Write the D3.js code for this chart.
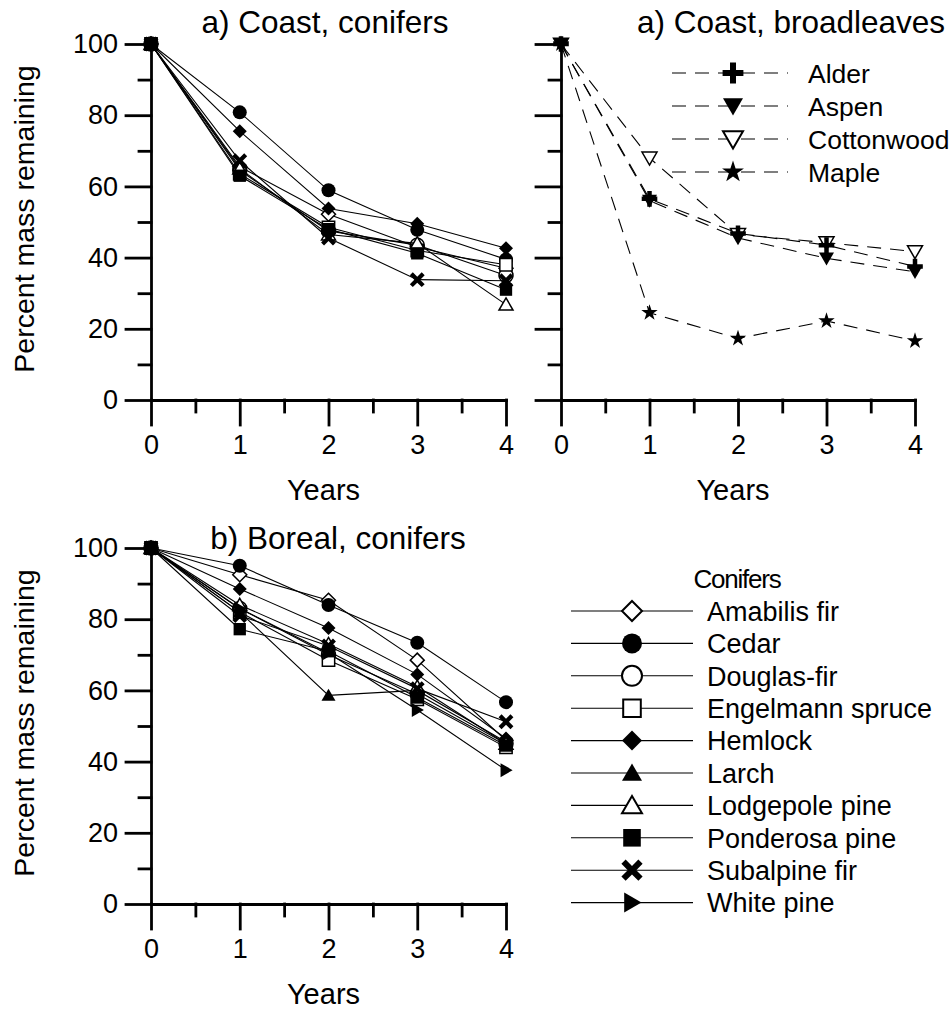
<!DOCTYPE html>
<html lang="en">
<head>
<meta charset="UTF-8">
<script src="https://d3js.org/d3.v7.min.js"></script>
<style>
  body { margin: 0; background: #fff; }
  svg text { font-family: "Liberation Sans", Arial, sans-serif; fill: #000; }
</style>
</head>
<body>
<div id="here"></div>
<script>
const years = [0, 1, 2, 3, 4];
const yTicks = [0, 20, 40, 60, 80, 100];
const yMinor = [10, 30, 50, 70, 90];
const xMinor = [0.5, 1.5, 2.5, 3.5];

// a) coast, conifers
const coastAmabilis  = [100, 65.5, 52.2, 43.0, 37.0];
const coastCedar     = [100, 80.8, 58.9, 47.8, 39.5];
const coastDouglas   = [100, 64.5, 47.5, 43.5, 35.0];
const coastEngelmann = [100, 63.5, 48.5, 42.0, 38.0];
const coastHemlock   = [100, 75.5, 53.8, 49.5, 42.6];
const coastLodgepole = [100, 65.0, 46.5, 44.0, 26.8];
const coastPonderosa = [100, 63.0, 48.0, 41.2, 31.0];
const coastSubalpine = [100, 67.2, 45.5, 33.8, 33.5];

// a) coast, broadleaves
const alder      = [100, 56.5, 46.8, 43.5, 37.5];
const aspen      = [100, 56.0, 45.5, 39.8, 36.0];
const cottonwood = [100, 68.0, 46.5, 44.2, 41.7];
const maple      = [100, 24.5, 17.3, 22.2, 16.6];

// b) boreal, conifers
const borealAmabilis  = [100, 92.5, 85.3, 68.5, 46.0];
const borealCedar     = [100, 95.0, 84.0, 73.4, 56.7];
const borealDouglas   = [100, 83.0, 70.0, 59.0, 45.0];
const borealEngelmann = [100, 82.0, 68.5, 57.5, 44.0];
const borealHemlock   = [100, 88.5, 77.5, 64.5, 46.5];
const borealLarch     = [100, 82.0, 58.6, 60.0, 45.5];
const borealLodgepole = [100, 84.0, 73.0, 61.0, 45.0];
const borealPonderosa = [100, 77.2, 71.0, 58.0, 44.5];
const borealSubalpine = [100, 81.0, 72.5, 60.5, 51.2];
const borealWhitePine = [100, 83.0, 70.5, 54.5, 37.6];

const coniferNames = ["Amabilis fir", "Cedar", "Douglas-fir", "Engelmann spruce", "Hemlock",
                      "Larch", "Lodgepole pine", "Ponderosa pine", "Subalpine fir", "White pine"];
const broadleafNames = ["Alder", "Aspen", "Cottonwood", "Maple"];

const coastSeries = [
  ["Amabilis fir", coastAmabilis], ["Cedar", coastCedar], ["Douglas-fir", coastDouglas],
  ["Engelmann spruce", coastEngelmann], ["Hemlock", coastHemlock], ["Lodgepole pine", coastLodgepole],
  ["Subalpine fir", coastSubalpine], ["Ponderosa pine", coastPonderosa]
];
const broadSeries = [["Maple", maple], ["Cottonwood", cottonwood], ["Aspen", aspen], ["Alder", alder]];
const borealSeries = [
  ["Amabilis fir", borealAmabilis], ["Cedar", borealCedar], ["Douglas-fir", borealDouglas],
  ["Engelmann spruce", borealEngelmann], ["Hemlock", borealHemlock], ["Larch", borealLarch],
  ["Lodgepole pine", borealLodgepole], ["Subalpine fir", borealSubalpine],
  ["White pine", borealWhitePine], ["Ponderosa pine", borealPonderosa]
];

// marker shape + fill for each species
const markers = {
  "Amabilis fir": ["diamond", false], "Cedar": ["circle", true], "Douglas-fir": ["circle", false],
  "Engelmann spruce": ["square", false], "Hemlock": ["diamond", true], "Larch": ["triUp", true],
  "Lodgepole pine": ["triUp", false], "Ponderosa pine": ["square", true], "Subalpine fir": ["x", true],
  "White pine": ["triRight", true], "Alder": ["plus", true], "Aspen": ["triDown", true],
  "Cottonwood": ["triDown", false], "Maple": ["star", true]
};

function symPath(shape, s) {
  const h = s / 2;
  if (shape === "diamond") return `M0,${-h}L${h},0L0,${h}L${-h},0Z`;
  if (shape === "circle") return `M${h},0A${h},${h} 0 1,1 ${-h},0A${h},${h} 0 1,1 ${h},0Z`;
  if (shape === "square") { const q = s * 0.44; return `M${-q},${-q}H${q}V${q}H${-q}Z`; }
  if (shape === "triUp") return `M0,${-h * 0.95}L${h},${h * 0.78}L${-h},${h * 0.78}Z`;
  if (shape === "triDown") return `M0,${h * 0.95}L${h},${-h * 0.78}L${-h},${-h * 0.78}Z`;
  if (shape === "triRight") return `M${h * 0.95},0L${-h * 0.78},${-h}L${-h * 0.78},${h}Z`;
  if (shape === "star") return d3.symbol(d3.symbolStar, (h * 1.15) * (h * 1.15) / 0.8908130915292852)();
  const w = s * 0.15, L = shape === "x" ? s * 0.6 : s * 0.52;
  return `M${-w},${-L}H${w}V${-w}H${L}V${w}H${w}V${L}H${-w}V${w}H${-L}V${-w}H${-w}Z`;
}

function drawMarker(g, name, cx, cy, s, sw) {
  const [shape, filled] = markers[name];
  g.append("path")
    .attr("d", symPath(shape, s))
    .attr("transform", `translate(${cx},${cy})` + (shape === "x" ? " rotate(45)" : ""))
    .attr("fill", filled ? "#000" : "#fff")
    .attr("stroke", filled ? "none" : "#000")
    .attr("stroke-width", sw);
}

const svg = d3.select("#here").append("svg")
  .attr("width", 951).attr("height", 1009);

function panel(opts) {
  const x = d3.scaleLinear().domain([0, 4]).range([opts.left, opts.right]);
  const y = d3.scaleLinear().domain([0, 100]).range([opts.bottom, opts.top]);
  const g = svg.append("g");

  // minor ticks
  g.append("g").attr("transform", `translate(${opts.left},0)`)
    .call(d3.axisLeft(y).tickValues(yMinor).tickSize(12).tickFormat(""))
    .call(a => a.select(".domain").remove());
  g.append("g").attr("transform", `translate(0,${opts.bottom})`)
    .call(d3.axisBottom(x).tickValues(xMinor).tickSize(12).tickFormat(""))
    .call(a => a.select(".domain").remove());

  // major axes
  g.append("g").attr("transform", `translate(${opts.left},0)`)
    .call(d3.axisLeft(y).tickValues(yTicks).tickSize(25).tickSizeOuter(0).tickPadding(8)
      .tickFormat(opts.yLabels ? d3.format("d") : ""))
    .attr("font-size", 27).attr("font-family", null);
  g.append("g").attr("transform", `translate(0,${opts.bottom})`)
    .call(d3.axisBottom(x).tickValues(years).tickSize(25).tickSizeOuter(0).tickPadding(10)
      .tickFormat(d3.format("d")))
    .attr("font-size", 27).attr("font-family", null);

  g.selectAll(".domain, .tick line").attr("stroke", "#000").attr("stroke-width", 2.8)
    .attr("stroke-linecap", "square");

  g.append("text").attr("x", opts.titleX).attr("y", opts.titleY)
    .attr("text-anchor", "middle").attr("font-size", 31.5).text(opts.title);

  g.append("text").attr("x", (opts.left + opts.right) / 2 - 5).attr("y", opts.bottom + 100)
    .attr("text-anchor", "middle").attr("font-size", 29).text("Years");

  if (opts.yLabels) {
    g.append("text")
      .attr("transform", `translate(34,${(opts.top + opts.bottom) / 2 - 3}) rotate(-90)`)
      .attr("text-anchor", "middle").attr("font-size", 28.5).text("Percent mass remaining");
  }

  const line = d3.line().x((d, i) => x(years[i])).y(d => y(d));
  opts.series.forEach(([name, vals]) => {
    g.append("path").datum(vals).attr("d", line)
      .attr("fill", "none").attr("stroke", "#000").attr("stroke-width", 1.1)
      .attr("stroke-dasharray", opts.dashed ? "14,9" : null);
    vals.forEach((v, i) => drawMarker(g, name, x(years[i]), y(v), opts.msize, 1.5));
  });
}

panel({ left: 151, right: 506, top: 44, bottom: 400, yLabels: true, series: coastSeries,
        title: "a) Coast, conifers", titleX: 325, titleY: 33, msize: 14 });
panel({ left: 561, right: 915, top: 44, bottom: 400, yLabels: false, series: broadSeries, dashed: true,
        title: "a) Coast, broadleaves", titleX: 791, titleY: 33, msize: 15 });
panel({ left: 151, right: 506, top: 548, bottom: 904, yLabels: true, series: borealSeries,
        title: "b) Boreal, conifers", titleX: 338, titleY: 549, msize: 14 });

// broadleaf legend
const bl = svg.append("g");
broadleafNames.forEach((name, i) => {
  const yy = 73 + i * 33;
  bl.append("line").attr("x1", 672).attr("x2", 788).attr("y1", yy).attr("y2", yy)
    .attr("stroke", "#000").attr("stroke-width", 1.1).attr("stroke-dasharray", "14,9");
  drawMarker(bl, name, 733, yy, 20, 2);
  bl.append("text").attr("x", 808).attr("y", yy).attr("dy", "0.36em")
    .attr("font-size", 26.5).text(name);
});

// conifer legend
const cl = svg.append("g");
cl.append("text").attr("x", 737).attr("y", 588).attr("text-anchor", "middle")
  .attr("font-size", 26).attr("letter-spacing", -1.2).text("Conifers");
coniferNames.forEach((name, i) => {
  const yy = 611 + i * 32.4;
  cl.append("line").attr("x1", 571).attr("x2", 693).attr("y1", yy).attr("y2", yy)
    .attr("stroke", "#000").attr("stroke-width", 1.1);
  drawMarker(cl, name, 632, yy, 20, 2);
  cl.append("text").attr("x", 707).attr("y", yy).attr("dy", "0.36em")
    .attr("font-size", 27).text(name);
});
</script>
</body>
</html>
